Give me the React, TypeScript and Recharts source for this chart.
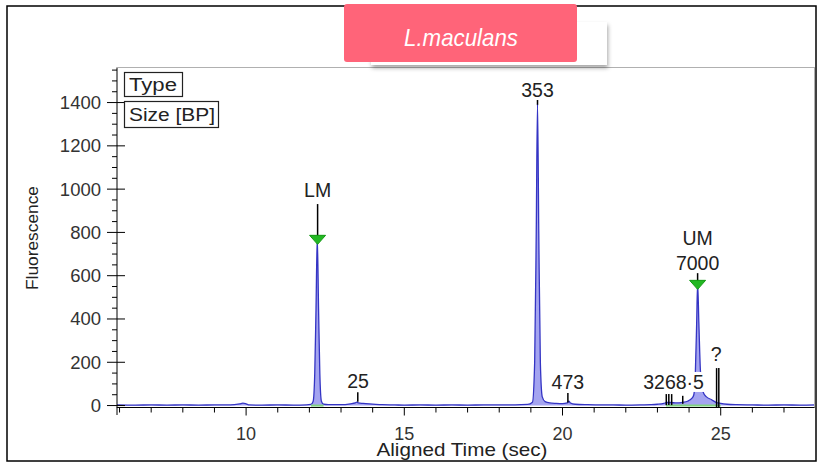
import React from 'react';
import { ComposedChart, Area, XAxis, YAxis, ReferenceLine, ReferenceDot } from 'recharts';

// ---- trace data ----
const times = [
  5.9, 6.5, 7.0, 7.5, 8.0, 8.5, 9.0, 9.5, 9.8, 9.9, 10.0, 10.1, 10.5, 11.0, 11.5, 11.9,
  12.05, 12.12, 12.17, 12.21, 12.25, 12.29, 12.33, 12.38, 12.45, 12.6,
  13.0, 13.3, 13.45, 13.5, 13.55, 13.7, 14.0, 14.3, 14.7, 15.0, 15.5, 16.0, 16.5, 17.0, 17.5, 18.0, 18.5, 18.9,
  19.05, 19.12, 19.17, 19.21, 19.25, 19.3, 19.36, 19.45, 19.6, 19.8, 20.0, 20.15, 20.2, 20.25, 20.4, 20.8,
  21.2, 21.6, 22.0, 22.5, 22.8, 23.0, 23.2, 23.3, 23.4, 23.6, 23.8, 23.95, 24.1, 24.15, 24.2, 24.24, 24.27,
  24.31, 24.36, 24.45, 24.55, 24.7, 24.85, 25.0, 25.2, 25.5, 26.0, 26.5, 27.0, 27.5, 28.0,
];
const fluorescence = [
  3, 2, 3, 2, 3, 2, 3, 3, 8, 11, 8, 3, 2, 3, 2, 3,
  5, 20, 150, 450, 778, 450, 150, 20, 6, 4,
  4, 8, 12, 16, 12, 10, 7, 4, 3, 2, 3, 2, 3, 2, 3, 3, 3, 5,
  15, 200, 800, 1395, 800, 200, 40, 18, 12, 10, 9, 12, 20, 12, 6, 4,
  3, 3, 2, 3, 4, 6, 10, 14, 14, 12, 15, 20, 35, 50, 160, 380, 565,
  380, 160, 60, 40, 28, 15, 10, 6, 4, 3, 2, 3, 2, 3,
];

// ---- axes ----
const xDomain = [5.92, 27.98];
const yDomain = [-9, 1562];
const xTicks = [6, 7, 8, 9, 10, 11, 12, 13, 14, 15, 16, 17, 18, 19, 20, 21, 22, 23, 24, 25, 26, 27];
const xTickLabels = [10, 15, 20, 25];
const yTicks = [0, 50, 100, 150, 200, 250, 300, 350, 400, 450, 500, 550, 600, 650, 700, 750, 800, 850, 900, 950,
  1000, 1050, 1100, 1150, 1200, 1250, 1300, 1350, 1400, 1450, 1500, 1550];
const yTickLabels = [0, 200, 400, 600, 800, 1000, 1200, 1400];

// ---- peak annotations ----
const peakLabelTexts = ['LM', '25', '353', '473', 'UM', '7000', '3268·5', '?'];
const peakLabelTimes = [12.26, 13.54, 19.21, 20.17, 24.27, 24.27, 23.51, 24.86];
const peakLabelHeights = [996, 113, 1458, 109, 774, 658, 109, 238];

const markerLineTimes = [12.26, 13.53, 19.21, 20.17, 24.27, 23.28, 23.36, 23.45, 23.8, 24.87, 24.94];
const markerLineTops = [931, 62, 1418, 58, 617, 53, 53, 53, 45, 173, 173];
const markerLineBottoms = [774, 18, 1390, 14, 560, 2, 2, 2, 8, -9, -9];

const triangleTimes = [12.26, 24.27];
const triangleHeights = [768, 560];

const baselineStarts = [12.05, 23.27];
const baselineEnds = [12.45, 25.0];

const data = times.map((t, i) => ({ t, f: fluorescence[i] }));

const FONT = '"Liberation Sans", Arial, sans-serif';

const XTick = (props: any) => {
  const { x, y, payload } = props;
  const major = xTickLabels.includes(payload.value);
  return (
    <g>
      <line x1={x} y1={y} x2={x} y2={y + (major ? 8 : 5)} stroke="#000" strokeWidth={1} />
      {major && (
        <text x={x} y={y + 32} textAnchor="middle" fontFamily={FONT} fontSize={18} fill="#333">
          {payload.value}
        </text>
      )}
    </g>
  );
};

const YTick = (props: any) => {
  const { x, y, payload } = props;
  const major = yTickLabels.includes(payload.value);
  return (
    <g>
      <line x1={major ? x - 10 : x - 5} y1={y} x2={major ? x + 8 : x} y2={y} stroke="#000" strokeWidth={1} />
      {major && (
        <text x={x - 16} y={y + 6.5} textAnchor="end" fontFamily={FONT} fontSize={18.5} fill="#333">
          {payload.value}
        </text>
      )}
    </g>
  );
};

const makeLabelShape = (text: string) => (props: any) => {
  const { cx, cy } = props;
  const w = text.length * 10.5 + 4;
  return (
    <g>
      <rect x={cx - w / 2} y={cy - 10} width={w} height={20} fill="#fff" />
      <text x={cx} y={cy + 7} textAnchor="middle" fontFamily={FONT} fontSize={19.5} fill="#222">
        {text}
      </text>
    </g>
  );
};

const TriangleShape = (props: any) => {
  const { cx, cy } = props;
  return (
    <path
      d={`M${cx - 8},${cy - 4} L${cx + 8},${cy - 4} L${cx},${cy + 5} Z`}
      fill="#22b822"
      stroke="#119911"
      strokeWidth={1}
    />
  );
};

export default function App() {
  return (
    <div style={{ position: 'absolute', left: 0, top: 0, width: 818, height: 464, background: '#fff' }}>
      <svg width={818} height={464} style={{ position: 'absolute', left: 0, top: 0 }}>
        <rect x={7} y={6} width={809} height={455} fill="#fff" stroke="#000" strokeWidth={1.5} />
      </svg>
      <div style={{ position: 'absolute', left: 0, top: 0 }}>
        <ComposedChart
          width={818}
          height={464}
          data={data}
          margin={{ top: 67.5, right: 3, bottom: 26.5, left: 57 }}
        >
          <XAxis
            dataKey="t"
            type="number"
            domain={xDomain}
            allowDataOverflow
            ticks={xTicks}
            interval={0}
            tick={<XTick />}
            tickLine={false}
            tickSize={0}
            tickMargin={0}
            height={30}
            axisLine={{ stroke: '#000', strokeWidth: 1 }}
          />
          <YAxis
            type="number"
            domain={yDomain}
            allowDataOverflow
            ticks={yTicks}
            interval={0}
            tick={<YTick />}
            tickLine={false}
            tickSize={0}
            tickMargin={0}
            width={60}
            axisLine={{ stroke: '#000', strokeWidth: 1 }}
          />
          <Area
            dataKey="f"
            type="monotone"
            stroke="#3434c4"
            strokeWidth={1.3}
            fill="#a4a4f0"
            fillOpacity={1}
            baseValue={0}
            isAnimationActive={false}
            dot={false}
            activeDot={false}
          />
          {baselineStarts.map((s, i) => (
            <ReferenceLine
              key={'bl' + i}
              segment={[{ x: s, y: 0 }, { x: baselineEnds[i], y: 0 }]}
              stroke="#7fd27f"
              strokeWidth={2}
            />
          ))}
          {markerLineTimes.map((t, i) => (
            <ReferenceLine
              key={'ml' + i}
              segment={[{ x: t, y: markerLineBottoms[i] }, { x: t, y: markerLineTops[i] }]}
              stroke="#000"
              strokeWidth={1.5}
              ifOverflow="visible"
            />
          ))}
          {triangleTimes.map((t, i) => (
            <ReferenceDot key={'tr' + i} x={t} y={triangleHeights[i]} r={0} shape={TriangleShape} />
          ))}
          {peakLabelTexts.map((txt, i) => (
            <ReferenceDot
              key={'pl' + i}
              x={peakLabelTimes[i]}
              y={peakLabelHeights[i]}
              r={0}
              shape={makeLabelShape(txt)}
            />
          ))}
        </ComposedChart>
      </div>
      <svg width={818} height={464} style={{ position: 'absolute', left: 0, top: 0, pointerEvents: 'none' }}>
        <defs>
          <filter id="sh" x="-10%" y="-20%" width="120%" height="160%">
            <feDropShadow dx={1} dy={3} stdDeviation={2} floodColor="#000" floodOpacity={0.35} />
          </filter>
        </defs>
        {/* plot frame */}
        <line x1={117} y1={67.5} x2={815} y2={67.5} stroke="#b0b0b0" strokeWidth={1} />
        <line x1={814.5} y1={67.5} x2={814.5} y2={407.5} stroke="#b0b0b0" strokeWidth={1} />
        <line x1={117} y1={407} x2={117} y2={415} stroke="#000" strokeWidth={1} />
        {/* legend boxes */}
        <rect x={124.5} y={72.5} width={58} height={24} fill="#fff" stroke="#222" strokeWidth={1.2} />
        <text x={129} y={91} fontFamily={FONT} fontSize={18} fill="#222" textLength={48} lengthAdjust="spacingAndGlyphs">Type</text>
        <rect x={124.5} y={101.5} width={94} height={26} fill="#fff" stroke="#222" strokeWidth={1.2} />
        <text x={129} y={121} fontFamily={FONT} fontSize={18} fill="#222" textLength={86} lengthAdjust="spacingAndGlyphs">Size [BP]</text>
        {/* axis titles */}
        <text x={462} y={455.5} textAnchor="middle" fontFamily={FONT} fontSize={19} fill="#222" textLength={171} lengthAdjust="spacingAndGlyphs">
          Aligned Time (sec)
        </text>
        <text
          x={0}
          y={0}
          transform="translate(38,238) rotate(-90)"
          textAnchor="middle"
          fontFamily={FONT}
          fontSize={16.5}
          fill="#222"
          textLength={104}
          lengthAdjust="spacingAndGlyphs"
        >
          Fluorescence
        </text>
        {/* title */}
        <rect x={371} y={22} width={236} height={43} fill="#fff" filter="url(#sh)" />
        <rect x={344} y={4} width={233} height={58} rx={3} fill="#ff6479" />
        <text
          x={461}
          y={46}
          textAnchor="middle"
          fontFamily={FONT}
          fontStyle="italic"
          fontSize={24}
          fill="#fff"
          textLength={114}
          lengthAdjust="spacingAndGlyphs"
        >
          L.maculans
        </text>
      </svg>
    </div>
  );
}
